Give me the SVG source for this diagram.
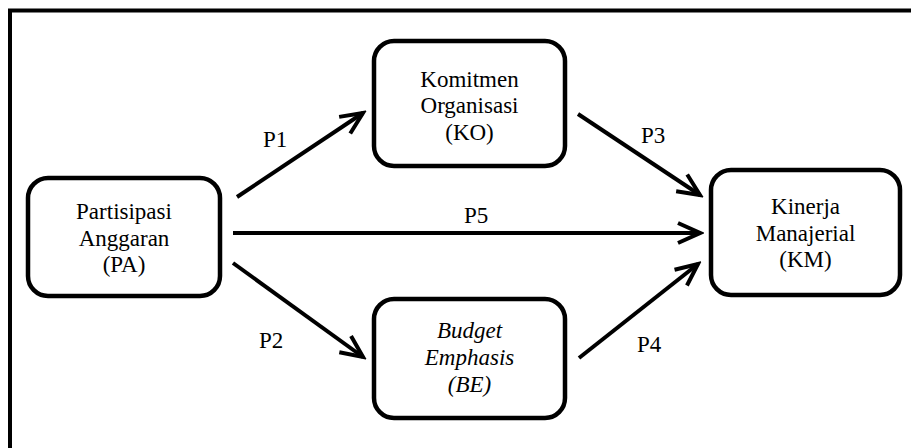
<svg xmlns="http://www.w3.org/2000/svg" width="911" height="448" viewBox="0 0 911 448">
<style>
.box{fill:#fff;stroke:#000;stroke-width:4.5}
text{font-family:'Liberation Serif','Times New Roman',serif;font-size:23px;fill:#000}
.t{text-anchor:middle}
.i{font-style:italic}
.c{stroke:#000;stroke-width:4;fill:none}
</style>
<defs>
<marker id="ah" markerUnits="userSpaceOnUse" markerWidth="30" markerHeight="30" viewBox="-26 -14 30 28" refX="0" refY="0" orient="auto">
<path d="M-22,-10 L0,0 L-22,10" fill="none" stroke="#000" stroke-width="4" stroke-linejoin="miter"/>
</marker>
</defs>
<rect width="911" height="448" fill="#fff"/>
<path d="M10,448 V10.5 H911" fill="none" stroke="#000" stroke-width="4"/>
<g id="connectors">
<line class="c" x1="237" y1="197" x2="363" y2="113" marker-end="url(#ah)"/>
<line class="c" x1="233" y1="263" x2="363" y2="357" marker-end="url(#ah)"/>
<line class="c" x1="578" y1="114" x2="700" y2="195" marker-end="url(#ah)"/>
<line class="c" x1="579" y1="358" x2="698" y2="264" marker-end="url(#ah)"/>
<line class="c" x1="233" y1="233" x2="700" y2="233" marker-end="url(#ah)"/>
<text x="263" y="147">P1</text>
<text x="259" y="348">P2</text>
<text x="641" y="143">P3</text>
<text x="637" y="352">P4</text>
<text x="464" y="223">P5</text>
</g>
<g id="PA">
<rect class="box" x="28" y="178" width="192" height="118" rx="20"/>
<text class="t" x="124" y="219">Partisipasi</text>
<text class="t" x="124" y="246">Anggaran</text>
<text class="t" x="124" y="272">(PA)</text>
</g>
<g id="KO">
<rect class="box" x="374" y="41" width="191" height="125" rx="20"/>
<text class="t" x="469.5" y="87">Komitmen</text>
<text class="t" x="469.5" y="113">Organisasi</text>
<text class="t" x="469.5" y="140">(KO)</text>
</g>
<g id="BE">
<rect class="box" x="374" y="299" width="191" height="119" rx="20"/>
<text class="t i" x="469.5" y="338">Budget</text>
<text class="t i" x="469.5" y="365">Emphasis</text>
<text class="t i" x="469.5" y="392">(BE)</text>
</g>
<g id="KM">
<rect class="box" x="711" y="170" width="189" height="125" rx="20"/>
<text class="t" x="805.5" y="214">Kinerja</text>
<text class="t" x="805.5" y="241">Manajerial</text>
<text class="t" x="805.5" y="267">(KM)</text>
</g>
</svg>
